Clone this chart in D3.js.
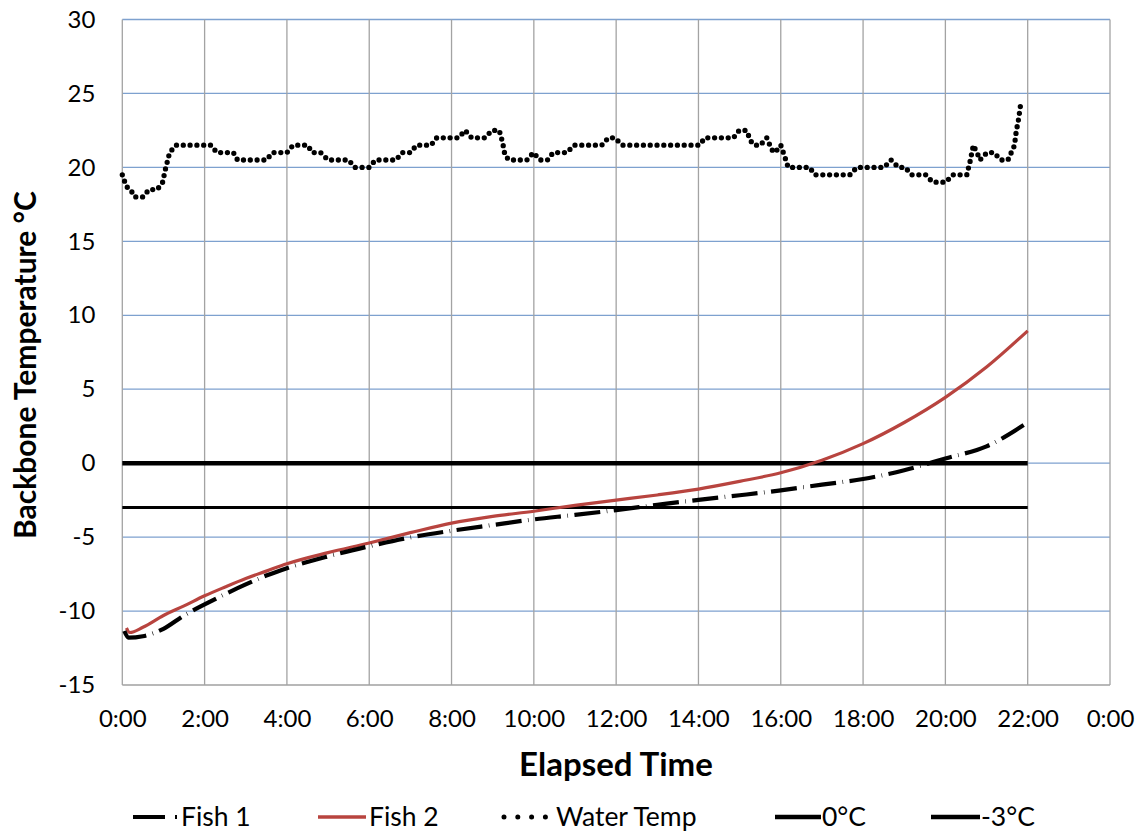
<!DOCTYPE html>
<html>
<head>
<meta charset="utf-8">
<script src="https://cdn.jsdelivr.net/npm/d3@7"></script>
<style>
  body { margin: 0; background: #fff; }
  svg text { font-family: Lato, "Open Sans", sans-serif; fill: #000; }
</style>
</head>
<body>
<svg id="chart" width="1139" height="832"></svg>
<script>
// elapsed time in hours, temperatures in degC
var fish1Hours = [0.05, 0.15, 0.5, 1, 1.5, 2, 2.5, 3, 3.5, 4, 5, 6, 7, 8, 9, 10, 11, 12, 13, 14, 15, 16, 17, 18, 19, 20, 21, 22];
var fish1Temp  = [-11.35, -11.8, -11.7, -11.2, -10.3, -9.55, -8.85, -8.2, -7.6, -7.1, -6.3, -5.62, -5.02, -4.57, -4.18, -3.8, -3.5, -3.17, -2.82, -2.48, -2.17, -1.84, -1.45, -1.07, -0.48, 0.32, 1.14, 2.75];

var fish2Hours = [0.1, 0.18, 0.5, 1, 1.5, 2, 2.5, 3, 3.5, 4, 5, 6, 7, 8, 9, 10, 11, 12, 13, 14, 15, 16, 17, 18, 19, 20, 21, 22];
var fish2Temp  = [-11.15, -11.45, -11.1, -10.3, -9.65, -8.97, -8.37, -7.8, -7.3, -6.8, -6.05, -5.4, -4.7, -4.05, -3.6, -3.25, -2.85, -2.5, -2.15, -1.75, -1.23, -0.65, 0.2, 1.32, 2.75, 4.45, 6.5, 8.95];

var waterHours = [0, 0.1, 0.2, 0.3, 0.5, 0.65, 0.85, 0.98, 1.05, 1.15, 1.3, 2.15, 2.3, 2.7, 2.8, 3.5, 3.65, 4.0, 4.15, 4.5, 4.62, 4.82, 5.0, 5.5, 5.65, 6.0, 6.15, 6.65, 6.8, 7.0, 7.15, 7.5, 7.64, 8.17, 8.33, 8.49, 8.81, 8.98, 9.16, 9.24, 9.3, 9.4, 9.83, 9.99, 10.15, 10.33, 10.47, 10.8, 10.98, 11.65, 11.81, 11.97, 12.15, 14.02, 14.16, 14.85, 14.99, 15.16, 15.29, 15.36, 15.5, 15.66, 15.78, 15.86, 16.0, 16.1, 16.18, 16.7, 16.83, 17.68, 17.85, 18.51, 18.68, 18.86, 19.02, 19.18, 19.52, 19.69, 20.01, 20.18, 20.52, 20.6, 20.68, 20.8, 20.84, 21.01, 21.18, 21.35, 21.52, 21.65, 21.68, 21.72, 21.78, 21.82, 21.86];
var waterTemp  = [19.5, 18.7, 18.5, 18, 18, 18.5, 18.5, 19, 19.9, 21, 21.5, 21.5, 21, 21, 20.5, 20.5, 21, 21, 21.5, 21.5, 21, 21, 20.5, 20.5, 20, 20, 20.5, 20.5, 21, 21, 21.5, 21.5, 22, 22, 22.5, 22, 22, 22.5, 22.5, 21.7, 20.8, 20.5, 20.5, 21, 20.5, 20.5, 21, 21, 21.5, 21.5, 22, 22, 21.5, 21.5, 22, 22, 22.5, 22.5, 21.7, 21.5, 21.5, 22, 21.2, 21, 21.5, 20.7, 20, 20, 19.5, 19.5, 20, 20, 20.5, 20, 20, 19.5, 19.5, 19, 19, 19.5, 19.5, 20.4, 21.5, 20.8, 20.5, 21, 21, 20.5, 20.5, 21.3, 21.5, 22.4, 23.3, 24.1, 24.5];

var refLines = [{name: "0°C", value: 0, width: 4.5}, {name: "-3°C", value: -3, width: 3}];
var refEnd = 22;

var xTicks = [0, 2, 4, 6, 8, 10, 12, 14, 16, 18, 20, 22, 24];
var yTicks = [-15, -10, -5, 0, 5, 10, 15, 20, 25, 30];

var redColor = "#B8443F";
var fishDash = "26,6.5,0.6,6.5";

var svg = d3.select("#chart");
var plotLeft = 122.3, plotRight = 1110, plotTop = 19.5, plotBottom = 685;

var x = d3.scaleLinear().domain([0, 24]).range([plotLeft, plotRight]);
var y = d3.scaleLinear().domain([-15, 30]).range([plotBottom, plotTop]);

// grid
var grid = svg.append("g");
grid.selectAll(".hgrid").data(yTicks).enter().append("line")
  .attr("x1", plotLeft).attr("x2", plotRight)
  .attr("y1", function(d) { return y(d); }).attr("y2", function(d) { return y(d); })
  .attr("stroke", function(d) { return d === -15 ? "#a0a0a0" : "#7ea1cf"; })
  .attr("stroke-width", 1.3);
grid.selectAll(".vgrid").data(xTicks).enter().append("line")
  .attr("y1", plotTop).attr("y2", plotBottom)
  .attr("x1", function(d) { return x(d); }).attr("x2", function(d) { return x(d); })
  .attr("stroke", "#a3a3a3")
  .attr("stroke-width", 1.3);

// axes (labels only, lines are the grid)
var xAxis = svg.append("g")
  .attr("transform", "translate(0," + plotBottom + ")")
  .call(d3.axisBottom(x).tickValues(xTicks).tickSize(0).tickPadding(25)
    .tickFormat(function(d) { return (d % 24) + ":00"; }));
xAxis.select(".domain").remove();
xAxis.selectAll("text").style("font-size", "24px").attr("fill", "#000");

var yAxis = svg.append("g")
  .attr("transform", "translate(" + plotLeft + ",0)")
  .call(d3.axisLeft(y).tickValues(yTicks).tickSize(0).tickPadding(27)
    .tickFormat(function(d) { return String(d); }));
yAxis.select(".domain").remove();
yAxis.selectAll("text").style("font-size", "24px").attr("fill", "#000");

// reference lines
svg.selectAll(".ref").data(refLines).enter().append("line")
  .attr("x1", x(0)).attr("x2", x(refEnd))
  .attr("y1", function(d) { return y(d.value); }).attr("y2", function(d) { return y(d.value); })
  .attr("stroke", "#000")
  .attr("stroke-width", function(d) { return d.width; });

function pairs(hs, ts) {
  return hs.map(function(h, i) { return [h, ts[i]]; });
}

var smooth = d3.line()
  .x(function(d) { return x(d[0]); })
  .y(function(d) { return y(d[1]); })
  .curve(d3.curveMonotoneX);

var plain = d3.line()
  .x(function(d) { return x(d[0]); })
  .y(function(d) { return y(d[1]); });

svg.append("path")
  .attr("d", smooth(pairs(fish2Hours, fish2Temp)))
  .attr("fill", "none").attr("stroke", redColor).attr("stroke-width", 3.2);

svg.append("path")
  .attr("d", smooth(pairs(fish1Hours, fish1Temp)))
  .attr("fill", "none").attr("stroke", "#000").attr("stroke-width", 4.2)
  .attr("stroke-dasharray", fishDash);

svg.append("path")
  .attr("d", plain(pairs(waterHours, waterTemp)))
  .attr("fill", "none").attr("stroke", "#000").attr("stroke-width", 5.3)
  .attr("stroke-linecap", "round").attr("stroke-dasharray", "0,6.8");

// titles
svg.append("text")
  .attr("x", 616).attr("y", 776)
  .attr("text-anchor", "middle")
  .style("font-size", "33px").style("font-weight", "bold")
  .text("Elapsed Time");

svg.append("text")
  .attr("transform", "translate(36,365) rotate(-90)")
  .attr("text-anchor", "middle")
  .style("font-size", "30px").style("font-weight", "bold")
  .text("Backbone Temperature °C");

// legend
var legendItems = [
  {name: "Fish 1", x: 133, len: 46, color: "#000", width: 4, dash: "32,10,2,10", cap: "butt", gap: 2},
  {name: "Fish 2", x: 318, len: 48, color: redColor, width: 3.5, dash: null, cap: "butt", gap: 3},
  {name: "Water Temp", x: 504, len: 42, color: "#000", width: 5, dash: "0,13.8", cap: "round", gap: 10},
  {name: "0°C", x: 775, len: 46, color: "#000", width: 4.5, dash: null, cap: "butt", gap: 1},
  {name: "-3°C", x: 931, len: 49, color: "#000", width: 4.5, dash: null, cap: "butt", gap: 1}
];
var legendY = 817;
var leg = svg.selectAll(".leg").data(legendItems).enter().append("g");
leg.append("line")
  .attr("x1", function(d) { return d.x; })
  .attr("x2", function(d) { return d.x + d.len; })
  .attr("y1", legendY).attr("y2", legendY)
  .attr("stroke", function(d) { return d.color; })
  .attr("stroke-width", function(d) { return d.width; })
  .attr("stroke-linecap", function(d) { return d.cap; })
  .attr("stroke-dasharray", function(d) { return d.dash; });
leg.append("text")
  .attr("x", function(d) { return d.x + d.len + d.gap; })
  .attr("y", legendY + 9)
  .style("font-size", "26.5px")
  .text(function(d) { return d.name; });
</script>
</body>
</html>
